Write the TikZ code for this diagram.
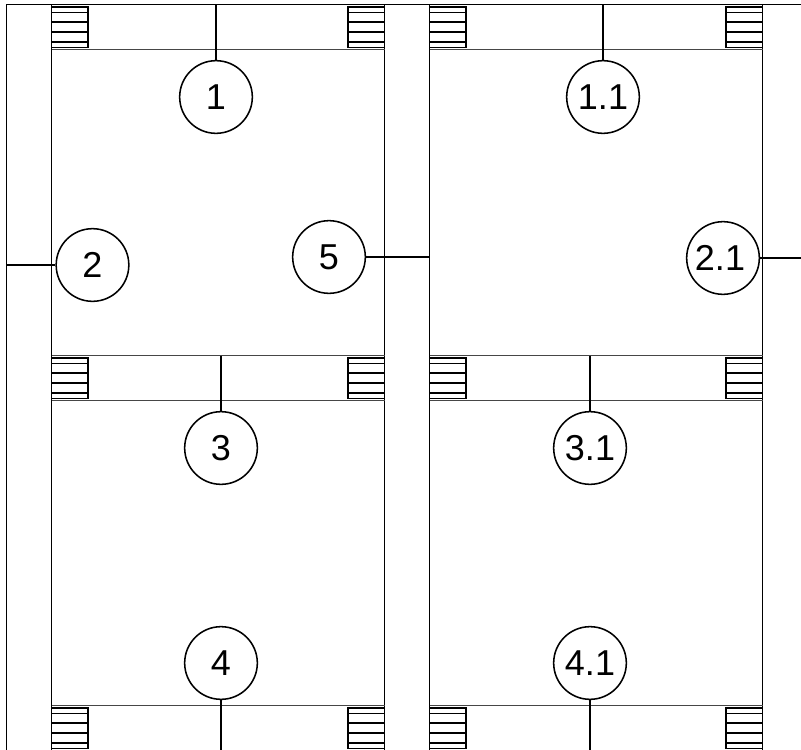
\documentclass[tikz,border=0pt]{standalone}
\usepackage{fontspec}
\setmainfont{Liberation Sans}
\tikzset{every picture/.style={line width=0.75pt}}
\tikzset{
roomnum/.style={draw,circle,fill=white,line width=1.15pt,minimum size=54.5pt,inner sep=0pt,font=\fontsize{27}{30}\selectfont},
treadbox/.style={line width=0.85pt},
leader/.style={line width=1.15pt}}
\begin{document}
\begin{tikzpicture}[x=0.75pt,y=0.75pt,yscale=-1,xscale=1]
\useasboundingbox (0,0) rectangle (801,750);

%Outer walls
\draw (6.5,750) -- (6.5,4.5) -- (801,4.5);
\draw (51.5,4.5) -- (51.5,750);
\draw (384.5,4.5) -- (384.5,750);
\draw (429.5,4.5) -- (429.5,750);
\draw (762.5,4.5) -- (762.5,750);

%Floors
\foreach \yy in {49.5,355.5,400.5,705.5}{
\draw [color={rgb, 255:red, 70; green, 70; blue, 70 }] (51.5,\yy) -- (384.5,\yy);
\draw [color={rgb, 255:red, 70; green, 70; blue, 70 }] (429.5,\yy) -- (762.5,\yy);
}

%Stairs
\foreach \xx in {51.5,348,429.5,726}{
\foreach \yy in {7,358,708}{
\draw [treadbox] (\xx,\yy) rectangle (\xx+36.5,\yy+40.5);
\foreach \tt in {5.5,15,25,35}{
\draw [treadbox] (\xx,\yy+\tt) -- (\xx+36.5,\yy+\tt);
}
}
}

%Free ends
\coordinate (top1) at (216,4.5);
\coordinate (top11) at (603,4.5);
\coordinate (left2) at (6.5,265);
\coordinate (wall5) at (429.5,257);
\coordinate (right21) at (801,258);
\coordinate (floor3) at (221,355.5);
\coordinate (floor31) at (590,355.5);
\coordinate (bot4) at (221,750);
\coordinate (bot41) at (590,750);

% Text Node
\node [roomnum] (n1) at (216,97) {1};
\node [roomnum] (n11) at (603,97) {1.1};
\node [roomnum] (n2) at (92.5,265) {2};
\node [roomnum] (n5) at (329,257) {5};
\node [roomnum] (n21) at (723,258) {2.1\kern 4.5pt};
\node [roomnum] (n3) at (221,448) {3};
\node [roomnum] (n31) at (590,448) {3.1};
\node [roomnum] (n4) at (221,663) {4};
\node [roomnum] (n41) at (590,663) {4.1};

%Connectors
\draw [leader] (top1) -- (n1);
\draw [leader] (top11) -- (n11);
\draw [leader] (left2) -- (n2);
\draw [leader] (n5) -- (wall5);
\draw [leader] (n21) -- (right21);
\draw [leader] (floor3) -- (n3);
\draw [leader] (floor31) -- (n31);
\draw [leader] (n4) -- (bot4);
\draw [leader] (n41) -- (bot41);
\end{tikzpicture}
\end{document}
